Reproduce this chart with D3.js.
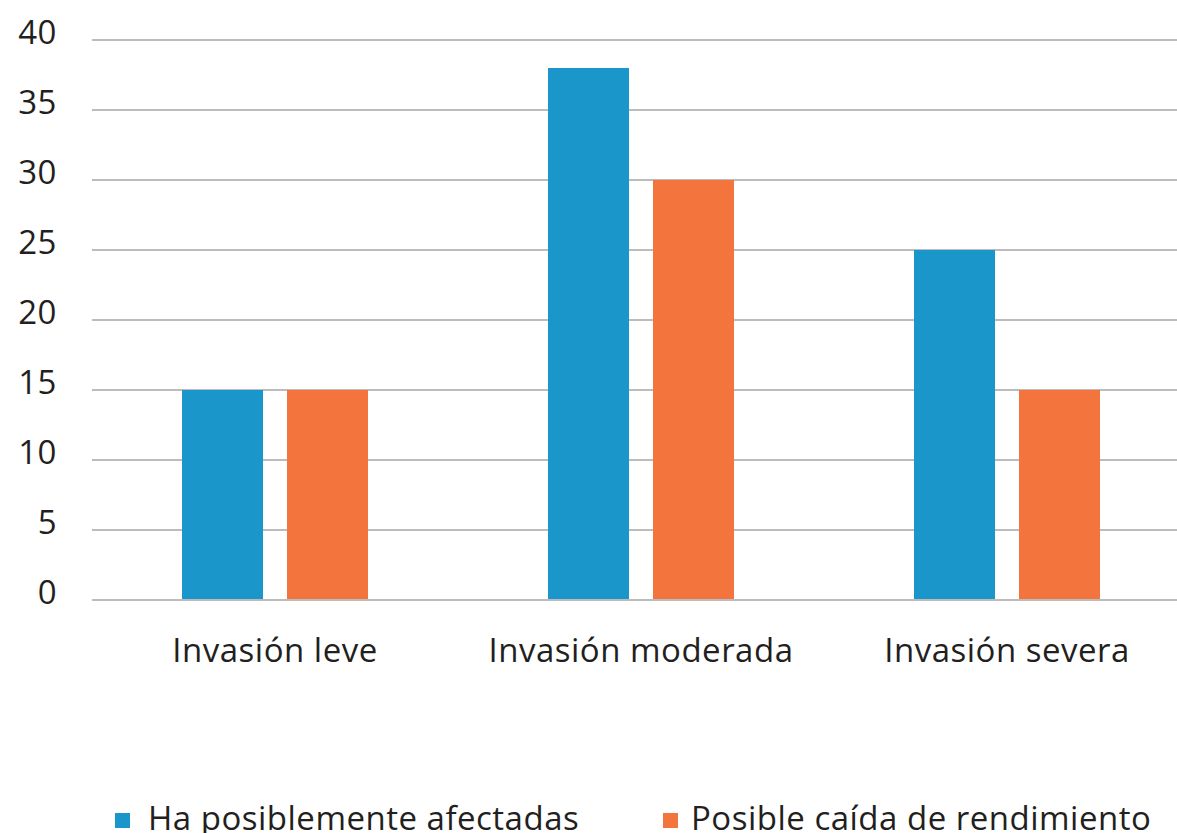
<!DOCTYPE html>
<html>
<head>
<meta charset="utf-8">
<script src="https://cdn.jsdelivr.net/npm/d3@7"></script>
<style>
  html, body { margin: 0; padding: 0; background: #fff; }
  svg { display: block; }
  text { font-family: "Open Sans", sans-serif; font-weight: 400; fill: #231f20; letter-spacing: 0.5px; }
</style>
</head>
<body>
<svg id="chart" width="1177" height="833"></svg>
<script>
// Chart data
const categories = ["Invasión leve", "Invasión moderada", "Invasión severa"];
const seriesNames = ["Ha posiblemente afectadas", "Posible caída de rendimiento"];
const haAfectadas = [15, 38, 25];
const caidaRendimiento = [15, 30, 15];
const yTicks = [0, 5, 10, 15, 20, 25, 30, 35, 40];
const colors = ["#1a96cb", "#f3743c"];

const series = [haAfectadas, caidaRendimiento];
const rows = categories.map((c, i) => ({ category: c, values: series.map(s => s[i]) }));

const svg = d3.select("#chart");
const plotLeft = 92, plotRight = 1190, plotTop = 40, plotBottom = 600;
const fontFamily = "'Open Sans', sans-serif";
const fontSize = 33;

const x = d3.scaleBand().domain(categories).range([plotLeft, plotRight]);
const y = d3.scaleLinear().domain([0, 40]).range([plotBottom, plotTop]);

// Grid lines
svg.append("g")
  .selectAll("line")
  .data(yTicks)
  .join("line")
  .attr("x1", plotLeft).attr("x2", 1177)
  .attr("y1", d => y(d)).attr("y2", d => y(d))
  .attr("stroke", "#bcbcbc")
  .attr("stroke-width", 2);

// Y axis labels
const yAxis = d3.axisLeft(y).tickValues(yTicks).tickSize(0).tickPadding(0);
const yG = svg.append("g").attr("transform", "translate(57,0)").call(yAxis);
yG.select(".domain").remove();
yG.selectAll("text")
  .attr("font-size", fontSize)
  .attr("font-family", fontFamily)
  .attr("fill", "#231f20")
  .attr("dy", "0.1em");

// Bars: two per category, fixed width with a small gap between them
const barW = 81, gap = 24, offset = 90;
const groups = svg.append("g")
  .selectAll("g")
  .data(rows)
  .join("g")
  .attr("transform", d => `translate(${x(d.category)},0)`);
groups.selectAll("rect")
  .data(d => d.values.map((v, i) => ({ v, i })))
  .join("rect")
  .attr("x", d => offset + d.i * (barW + gap))
  .attr("width", barW)
  .attr("y", d => y(d.v))
  .attr("height", d => y(0) - y(d.v) - 1)
  .attr("fill", d => colors[d.i]);

// Category labels
const xAxis = d3.axisBottom(x).tickSize(0).tickPadding(0);
const xG = svg.append("g").attr("transform", `translate(0,${plotBottom})`).call(xAxis);
xG.select(".domain").remove();
xG.selectAll("text")
  .attr("font-size", fontSize)
  .attr("font-family", fontFamily)
  .attr("fill", "#231f20")
  .attr("y", 62)
  .attr("dy", 0);

// Legend
const legendSwatchX = [115, 663];
const legendTextX = [148, 691];
const legend = svg.append("g")
  .selectAll("g")
  .data(seriesNames)
  .join("g");
legend.append("rect")
  .attr("x", (d, i) => legendSwatchX[i]).attr("y", 813)
  .attr("width", 15).attr("height", 15)
  .attr("fill", (d, i) => colors[i]);
legend.append("text")
  .attr("x", (d, i) => legendTextX[i]).attr("y", 830)
  .attr("font-size", fontSize)
  .text(d => d);
</script>
</body>
</html>
